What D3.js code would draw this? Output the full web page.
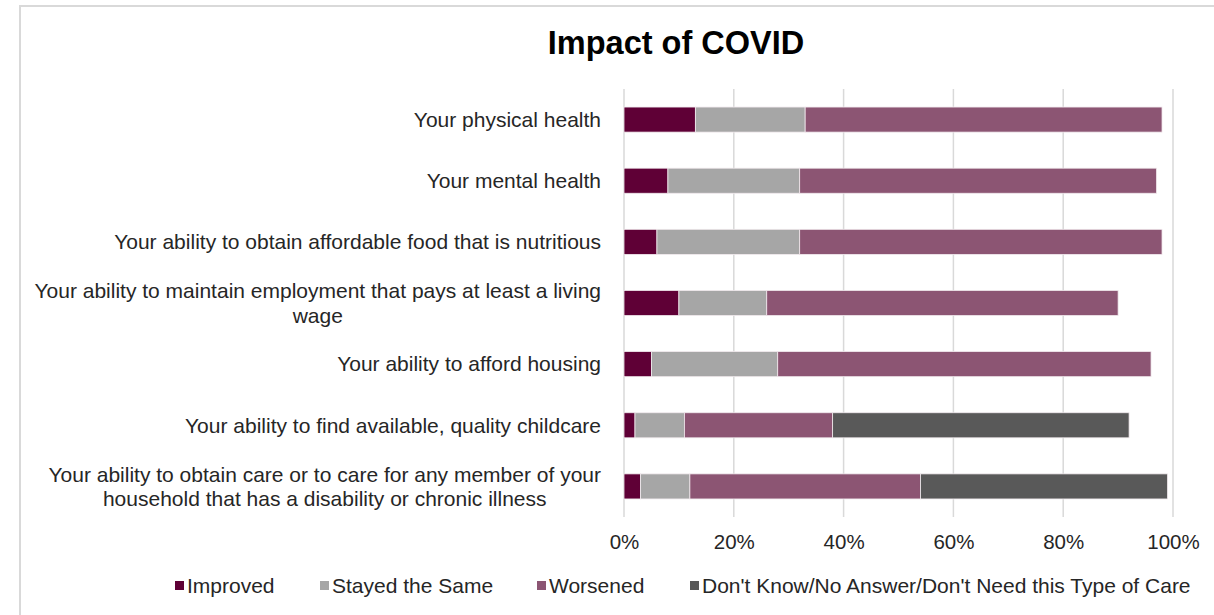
<!DOCTYPE html>
<html>
<head>
<meta charset="utf-8">
<script src="https://cdn.jsdelivr.net/npm/d3@7"></script>
<style>
  html, body { margin: 0; padding: 0; background: #fff; }
  svg { display: block; font-family: "Liberation Sans", Arial, sans-serif; }
</style>
</head>
<body>
<svg id="chart" width="1214" height="615"></svg>
<script>
// Survey items (top to bottom), each label split into its printed lines
const categories = [
  ["Your physical health"],
  ["Your mental health"],
  ["Your ability to obtain affordable food that is nutritious"],
  ["Your ability to maintain employment that pays at least a living", "wage"],
  ["Your ability to afford housing"],
  ["Your ability to find available, quality childcare"],
  ["Your ability to obtain care or to care for any member of your", "household that has a disability or chronic illness"]
];

const seriesNames = ["Improved", "Stayed the Same", "Worsened", "Don't Know/No Answer/Don't Need this Type of Care"];

// Percent of respondents per item
const improved  = [13, 8, 6, 10, 5, 2, 3];
const stayed    = [20, 24, 26, 16, 23, 9, 9];
const worsened  = [65, 65, 66, 64, 68, 27, 42];
const dontKnow  = [0, 0, 0, 0, 0, 54, 45];

const tickValues = [0, 0.2, 0.4, 0.6, 0.8, 1.0];

const colors = ["#5f0036", "#a6a6a6", "#8c5573", "#595959"];

const svg = d3.select("#chart");
const W = 1214, H = 615;

// chart frame
svg.append("rect").attr("x", 20).attr("y", 6).attr("width", W).attr("height", H)
  .attr("fill", "#fff").attr("stroke", "#d9d9d9").attr("stroke-width", 2);

const plot = { left: 624, right: 1173, top: 89, bottom: 517 };

const rows = categories.map((c, i) => ({
  key: i,
  label: c,
  Improved: improved[i] / 100,
  "Stayed the Same": stayed[i] / 100,
  Worsened: worsened[i] / 100,
  "Don't Know/No Answer/Don't Need this Type of Care": dontKnow[i] / 100
}));

const x = d3.scaleLinear().domain([0, 1]).range([plot.left, plot.right]);
const y = d3.scaleBand().domain(rows.map(r => r.key))
  .range([plot.top, plot.bottom]).paddingInner(0.59).paddingOuter(0.295);

// vertical gridlines
svg.append("g").selectAll("line").data(tickValues).join("line")
  .attr("x1", d => x(d)).attr("x2", d => x(d))
  .attr("y1", plot.top).attr("y2", plot.bottom)
  .attr("stroke", "#d9d9d9").attr("stroke-width", 1.5);

// stacked bars
const stack = d3.stack().keys(seriesNames)(rows);
const colorScale = d3.scaleOrdinal().domain(seriesNames).range(colors);

svg.append("g").selectAll("g").data(stack).join("g")
  .attr("fill", d => colorScale(d.key))
  .selectAll("rect").data(d => d.filter(s => s[1] - s[0] > 0)).join("rect")
  .attr("x", d => x(d[0]))
  .attr("width", d => x(d[1]) - x(d[0]))
  .attr("y", d => y(d.data.key))
  .attr("height", y.bandwidth())
  .attr("stroke", "#f2eaee").attr("stroke-width", 0.8);

// x axis labels
const xAxis = d3.axisBottom(x).tickValues(tickValues).tickFormat(d3.format(".0%")).tickSize(0).tickPadding(0);
const gx = svg.append("g").attr("transform", `translate(0,${plot.bottom + 17})`).call(xAxis);
gx.select(".domain").remove();
gx.selectAll("text").attr("font-size", 20.5).attr("fill", "#262626")
  .attr("font-family", "Liberation Sans, Arial, sans-serif").attr("dy", "0.71em");

// category labels: block right-aligned, lines centred within the block
const labelRight = 601;
const lineH = 24.5;
const lg = svg.append("g").attr("font-size", 21).attr("fill", "#262626");
rows.forEach(r => {
  const g = lg.append("g");
  const cy = y(r.key) + y.bandwidth() / 2;
  const n = r.label.length;
  const texts = r.label.map((line, j) => g.append("text")
    .attr("y", cy + (j - (n - 1) / 2) * lineH)
    .attr("dy", "0.35em")
    .text(line));
  const maxW = d3.max(texts, t => t.node().getComputedTextLength());
  texts.forEach(t => t.attr("x", labelRight - maxW / 2).attr("text-anchor", "middle"));
});

// title
svg.append("text").attr("x", 676).attr("y", 54)
  .attr("text-anchor", "middle").attr("font-size", 32.5).attr("font-weight", "bold")
  .attr("fill", "#000").text("Impact of COVID");

// legend
const legendX = [175, 320, 537, 690];
const legend = svg.append("g").attr("font-size", 21).attr("fill", "#262626");
seriesNames.forEach((name, i) => {
  legend.append("rect").attr("x", legendX[i]).attr("y", 581).attr("width", 9).attr("height", 9)
    .attr("fill", colors[i]);
  legend.append("text").attr("x", legendX[i] + 12).attr("y", 586).attr("dy", "0.35em").text(name);
});
</script>
</body>
</html>
